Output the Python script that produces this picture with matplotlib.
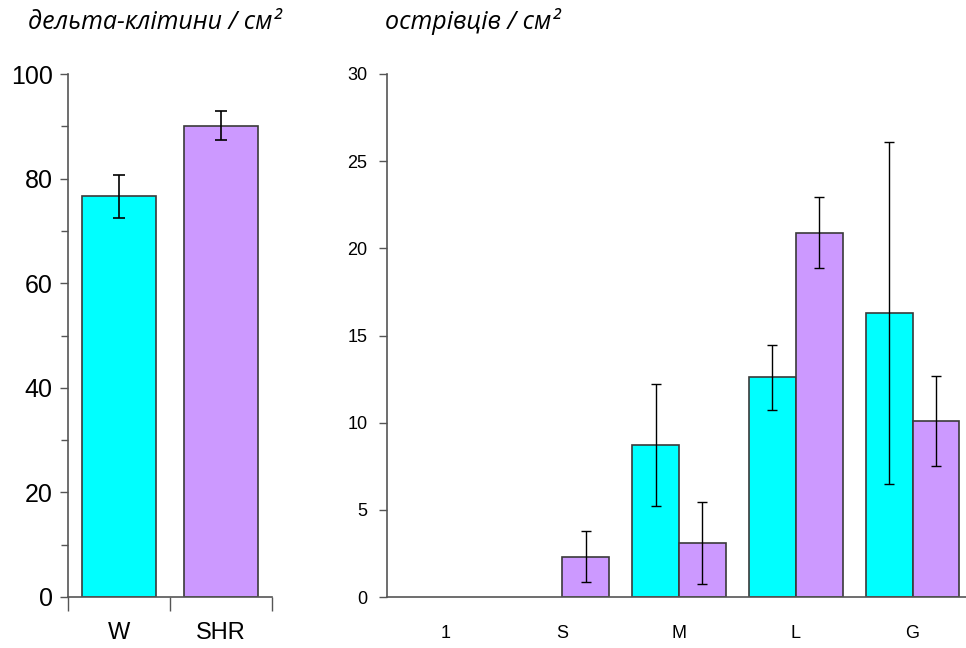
import matplotlib
matplotlib.use("Agg")
import matplotlib.pyplot as plt
import numpy as np
from matplotlib.ticker import MultipleLocator, FixedLocator

# ---- data ----
left_categories = ["W", "SHR"]
left_values = [76.6, 90.1]
left_errors = [4.1, 2.8]

right_categories = ["1", "S", "M", "L", "G"]
w_values = [0.0, 0.0, 8.7, 12.6, 16.3]
w_errors = [0.0, 0.0, 3.5, 1.85, 9.8]
shr_values = [0.0, 2.31, 3.08, 20.9, 10.1]
shr_errors = [0.0, 1.45, 2.35, 2.05, 2.6]

left_title = "дельта-клітини / см²"
right_title = "острівців / см²"

cyan = "#00FFFF"
purple = "#CC99FF"
edge = "#3a3a3a"
spine_c = "#555555"

fig = plt.figure(figsize=(9.66, 6.48), dpi=100)

narrow = ["Liberation Sans", "DejaVu Sans"]
arial = ["Liberation Sans", "DejaVu Sans"]

# ---- left panel ----
axL = fig.add_axes([68/966, 51/648, 204/966, 523/648])
xl = np.arange(len(left_categories))
axL.bar(xl, left_values, width=0.72, color=[cyan, purple], edgecolor=edge, linewidth=1.2, zorder=2)
axL.errorbar(xl, left_values, yerr=left_errors, fmt="none", ecolor="black", elinewidth=1.2, capsize=4, capthick=1.2, zorder=3)
axL.set_xlim(-0.5, 1.5)
axL.set_ylim(0, 100)
axL.yaxis.set_major_locator(MultipleLocator(20))
axL.yaxis.set_minor_locator(MultipleLocator(10))
axL.xaxis.set_major_locator(FixedLocator([-0.5, 0.5, 1.5]))
axL.xaxis.set_minor_locator(FixedLocator(xl))
axL.set_xticklabels([], minor=False)
axL.set_xticklabels(left_categories, minor=True, fontfamily=narrow, fontsize=17)
axL.tick_params(axis="x", which="major", length=10, width=1, color=spine_c)
axL.tick_params(axis="x", which="minor", length=0, pad=18)
axL.tick_params(axis="y", which="major", length=6, width=1, color=spine_c, pad=5)
axL.tick_params(axis="y", which="minor", length=5, width=1, color=spine_c)
for lbl in axL.get_yticklabels():
    lbl.set_fontfamily(narrow)
    lbl.set_fontsize(18)
for s in ["top", "right"]:
    axL.spines[s].set_visible(False)
for s in ["left", "bottom"]:
    axL.spines[s].set_color(spine_c)
    axL.spines[s].set_linewidth(1.2)

# ---- right panel ----
axR = fig.add_axes([387/966, 51/648, 584/966, 523/648])
xr = np.arange(len(right_categories))
bw = 0.4
wv = np.array(w_values); we = np.array(w_errors)
sv = np.array(shr_values); se = np.array(shr_errors)
wmask = wv > 0
smask = sv > 0
axR.bar((xr - bw/2)[wmask], wv[wmask], width=bw, color=cyan, edgecolor=edge, linewidth=1.2, zorder=2)
axR.bar((xr + bw/2)[smask], sv[smask], width=bw, color=purple, edgecolor=edge, linewidth=1.2, zorder=2)
axR.errorbar((xr - bw/2)[wmask], wv[wmask], yerr=we[wmask],
             fmt="none", ecolor="black", elinewidth=1.0, capsize=3.5, capthick=1.0, zorder=3)
axR.errorbar((xr + bw/2)[smask], sv[smask], yerr=se[smask],
             fmt="none", ecolor="black", elinewidth=1.0, capsize=3.5, capthick=1.0, zorder=3)
axR.set_xlim(-0.5, len(right_categories) - 0.5)
axR.set_ylim(0, 30)
axR.yaxis.set_major_locator(MultipleLocator(5))
axR.set_xticks(xr)
axR.set_xticklabels(right_categories, fontfamily=arial, fontsize=13)
axR.tick_params(axis="x", length=0, pad=20)
axR.tick_params(axis="y", length=6, width=1, color=spine_c, pad=8)
for lbl in axR.get_yticklabels():
    lbl.set_fontfamily(arial)
    lbl.set_fontsize(13)
for s in ["top", "right"]:
    axR.spines[s].set_visible(False)
for s in ["left", "bottom"]:
    axR.spines[s].set_color(spine_c)
    axR.spines[s].set_linewidth(1.2)

# ---- titles ----
fig.text(28/966, 1 - 29/648, left_title, fontfamily=["Open Sans", "DejaVu Sans"], style="italic",
         fontsize=18, ha="left", va="baseline")
fig.text(385/966, 1 - 29/648, right_title, fontfamily=["Open Sans", "DejaVu Sans"], style="italic",
         fontsize=18, ha="left", va="baseline")

fig.savefig("out.png", dpi=100)
